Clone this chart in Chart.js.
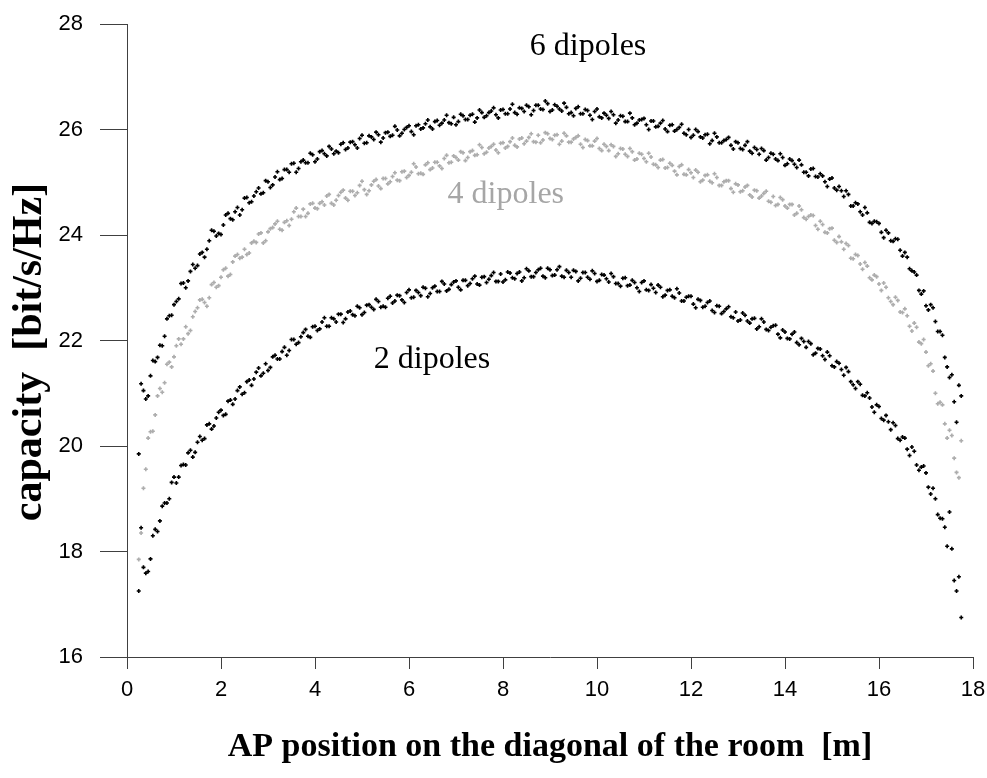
<!DOCTYPE html>
<html>
<head>
<meta charset="utf-8">
<title>Capacity along the room diagonal</title>
<script src="https://cdn.jsdelivr.net/npm/chart.js@4.4.1/dist/chart.umd.min.js"></script>
<style>
  html, body { margin: 0; padding: 0; background: #fff; }
  canvas { display: block; }
</style>
</head>
<body>
<canvas id="capacityChart" width="987" height="778"></canvas>
<script>
// AP positions along the diagonal [m]
const positions = [
  0.25, 0.3, 0.35, 0.4, 0.45, 0.5, 0.55, 0.6, 0.65, 0.7,
  0.75, 0.8, 0.85, 0.9, 0.95, 1, 1.05, 1.1, 1.15, 1.2,
  1.25, 1.3, 1.35, 1.4, 1.45, 1.5, 1.55, 1.6, 1.65, 1.7,
  1.75, 1.8, 1.85, 1.9, 1.95, 2, 2.05, 2.1, 2.15, 2.2,
  2.25, 2.3, 2.35, 2.4, 2.45, 2.5, 2.55, 2.6, 2.65, 2.7,
  2.75, 2.8, 2.85, 2.9, 2.95, 3, 3.05, 3.1, 3.15, 3.2,
  3.25, 3.3, 3.35, 3.4, 3.45, 3.5, 3.55, 3.6, 3.65, 3.7,
  3.75, 3.8, 3.85, 3.9, 3.95, 4, 4.05, 4.1, 4.15, 4.2,
  4.25, 4.3, 4.35, 4.4, 4.45, 4.5, 4.55, 4.6, 4.65, 4.7,
  4.75, 4.8, 4.85, 4.9, 4.95, 5, 5.05, 5.1, 5.15, 5.2,
  5.25, 5.3, 5.35, 5.4, 5.45, 5.5, 5.55, 5.6, 5.65, 5.7,
  5.75, 5.8, 5.85, 5.9, 5.95, 6, 6.05, 6.1, 6.15, 6.2,
  6.25, 6.3, 6.35, 6.4, 6.45, 6.5, 6.55, 6.6, 6.65, 6.7,
  6.75, 6.8, 6.85, 6.9, 6.95, 7, 7.05, 7.1, 7.15, 7.2,
  7.25, 7.3, 7.35, 7.4, 7.45, 7.5, 7.55, 7.6, 7.65, 7.7,
  7.75, 7.8, 7.85, 7.9, 7.95, 8, 8.05, 8.1, 8.15, 8.2,
  8.25, 8.3, 8.35, 8.4, 8.45, 8.5, 8.55, 8.6, 8.65, 8.7,
  8.75, 8.8, 8.85, 8.9, 8.95, 9, 9.05, 9.1, 9.15, 9.2,
  9.25, 9.3, 9.35, 9.4, 9.45, 9.5, 9.55, 9.6, 9.65, 9.7,
  9.75, 9.8, 9.85, 9.9, 9.95, 10, 10.05, 10.1, 10.15, 10.2,
  10.25, 10.3, 10.35, 10.4, 10.45, 10.5, 10.55, 10.6, 10.65, 10.7,
  10.75, 10.8, 10.85, 10.9, 10.95, 11, 11.05, 11.1, 11.15, 11.2,
  11.25, 11.3, 11.35, 11.4, 11.45, 11.5, 11.55, 11.6, 11.65, 11.7,
  11.75, 11.8, 11.85, 11.9, 11.95, 12, 12.05, 12.1, 12.15, 12.2,
  12.25, 12.3, 12.35, 12.4, 12.45, 12.5, 12.55, 12.6, 12.65, 12.7,
  12.75, 12.8, 12.85, 12.9, 12.95, 13, 13.05, 13.1, 13.15, 13.2,
  13.25, 13.3, 13.35, 13.4, 13.45, 13.5, 13.55, 13.6, 13.65, 13.7,
  13.75, 13.8, 13.85, 13.9, 13.95, 14, 14.05, 14.1, 14.15, 14.2,
  14.25, 14.3, 14.35, 14.4, 14.45, 14.5, 14.55, 14.6, 14.65, 14.7,
  14.75, 14.8, 14.85, 14.9, 14.95, 15, 15.05, 15.1, 15.15, 15.2,
  15.25, 15.3, 15.35, 15.4, 15.45, 15.5, 15.55, 15.6, 15.65, 15.7,
  15.75, 15.8, 15.85, 15.9, 15.95, 16, 16.05, 16.1, 16.15, 16.2,
  16.25, 16.3, 16.35, 16.4, 16.45, 16.5, 16.55, 16.6, 16.65, 16.7,
  16.75, 16.8, 16.85, 16.9, 16.95, 17, 17.05, 17.1, 17.15, 17.2,
  17.25, 17.3, 17.35, 17.4, 17.45, 17.5, 17.55, 17.6, 17.65, 17.7,
  17.75
];

// capacity [bit/s/Hz]
const sixDipoles = [
  19.85, 21.18, 21.05, 20.89, 20.95, 21.33, 21.62, 21.6, 21.68, 21.91,
  21.9, 22.08, 22.41, 22.47, 22.48, 22.68, 22.74, 22.79, 23.08, 23.09,
  23.0, 23.13, 23.31, 23.44, 23.37, 23.42, 23.64, 23.67, 23.58, 23.73,
  23.89, 24.09, 24.07, 23.98, 24.03, 24.01, 24.19, 24.38, 24.41, 24.31,
  24.29, 24.44, 24.52, 24.38, 24.48, 24.7, 24.71, 24.61, 24.63, 24.74,
  24.82, 24.89, 24.78, 24.8, 25.03, 25.01, 24.9, 24.95, 25.1, 25.2,
  25.05, 25.07, 25.24, 25.24, 25.19, 25.35, 25.36, 25.19, 25.26, 25.39,
  25.42, 25.37, 25.37, 25.55, 25.52, 25.39, 25.44, 25.58, 25.6, 25.54,
  25.5, 25.68, 25.63, 25.54, 25.59, 25.56, 25.72, 25.75, 25.62, 25.65,
  25.76, 25.77, 25.71, 25.65, 25.83, 25.89, 25.74, 25.75, 25.88, 25.86,
  25.81, 25.95, 25.9, 25.76, 25.84, 25.94, 25.95, 25.87, 25.89, 26.06,
  25.99, 25.88, 25.93, 26.0, 26.04, 26.07, 25.96, 25.9, 26.07, 26.09,
  26.01, 26.03, 26.11, 26.18, 26.05, 26.01, 26.15, 26.17, 26.08, 26.12,
  26.18, 26.27, 26.13, 26.11, 26.23, 26.09, 26.15, 26.29, 26.26, 26.19,
  26.19, 26.27, 26.29, 26.14, 26.22, 26.37, 26.32, 26.23, 26.26, 26.32,
  26.35, 26.41, 26.28, 26.22, 26.37, 26.38, 26.3, 26.3, 26.39, 26.48,
  26.32, 26.29, 26.41, 26.4, 26.34, 26.46, 26.43, 26.28, 26.36, 26.46,
  26.46, 26.39, 26.38, 26.54, 26.49, 26.34, 26.37, 26.47, 26.44, 26.39,
  26.35, 26.5, 26.42, 26.3, 26.32, 26.26, 26.4, 26.43, 26.3, 26.3,
  26.38, 26.36, 26.27, 26.19, 26.34, 26.39, 26.24, 26.22, 26.31, 26.27,
  26.21, 26.34, 26.28, 26.12, 26.18, 26.26, 26.25, 26.15, 26.15, 26.31,
  26.22, 26.09, 26.12, 26.18, 26.19, 26.21, 26.09, 26.0, 26.16, 26.16,
  26.05, 26.06, 26.12, 26.17, 26.01, 25.96, 26.08, 26.09, 25.97, 26.0,
  26.04, 26.1, 25.93, 25.9, 26.0, 25.85, 25.89, 26.0, 25.96, 25.86,
  25.84, 25.9, 25.91, 25.73, 25.79, 25.93, 25.86, 25.75, 25.75, 25.79,
  25.81, 25.85, 25.7, 25.63, 25.77, 25.75, 25.64, 25.62, 25.7, 25.77,
  25.59, 25.55, 25.66, 25.62, 25.53, 25.64, 25.6, 25.42, 25.47, 25.55,
  25.53, 25.44, 25.41, 25.54, 25.47, 25.32, 25.35, 25.44, 25.41, 25.34,
  25.28, 25.42, 25.33, 25.19, 25.19, 25.12, 25.25, 25.26, 25.11, 25.1,
  25.16, 25.12, 25.01, 24.92, 25.06, 25.08, 24.89, 24.85, 24.92, 24.84,
  24.73, 24.84, 24.77, 24.55, 24.55, 24.61, 24.59, 24.44, 24.38, 24.52,
  24.42, 24.24, 24.22, 24.26, 24.25, 24.22, 24.05, 23.95, 24.09, 24.04,
  23.89, 23.88, 23.93, 23.92, 23.71, 23.6, 23.67, 23.58, 23.36, 23.32,
  23.3, 23.24, 22.95, 22.88, 22.94, 22.66, 22.58, 22.68, 22.62, 22.36,
  22.17, 22.17, 22.1, 21.68, 21.5, 21.3, 21.35, 20.84, 20.45, 21.15,
  20.95
];

const fourDipoles = [
  17.85, 18.35, 19.2, 19.56, 20.15, 20.27, 20.28, 20.59, 20.95, 21.09,
  21.02, 21.2, 21.55, 21.59, 21.5, 21.69, 21.9, 22.03, 21.93, 22.03,
  22.26, 22.13, 22.19, 22.45, 22.55, 22.62, 22.77, 22.78, 22.72, 22.65,
  22.81, 23.06, 23.1, 23.01, 23.04, 23.2, 23.34, 23.37, 23.22, 23.25,
  23.49, 23.6, 23.63, 23.56, 23.58, 23.73, 23.63, 23.66, 23.85, 23.88,
  23.86, 24.02, 24.04, 23.85, 23.89, 24.06, 24.12, 24.14, 24.21, 24.26,
  24.11, 24.09, 24.24, 24.27, 24.18, 24.3, 24.44, 24.51, 24.35, 24.35,
  24.49, 24.35, 24.41, 24.59, 24.6, 24.51, 24.5, 24.6, 24.63, 24.57,
  24.74, 24.77, 24.6, 24.57, 24.66, 24.75, 24.81, 24.85, 24.7, 24.66,
  24.83, 24.83, 24.75, 24.8, 24.94, 25.02, 24.86, 24.77, 24.84, 24.95,
  25.02, 25.05, 24.93, 24.88, 25.07, 25.07, 24.97, 25.01, 25.11, 25.18,
  25.04, 25.03, 25.2, 25.21, 25.09, 25.13, 25.19, 25.35, 25.29, 25.16,
  25.17, 25.15, 25.33, 25.37, 25.24, 25.27, 25.38, 25.38, 25.31, 25.26,
  25.45, 25.51, 25.37, 25.38, 25.5, 25.47, 25.42, 25.58, 25.56, 25.41,
  25.47, 25.58, 25.6, 25.51, 25.52, 25.71, 25.66, 25.54, 25.57, 25.65,
  25.68, 25.72, 25.61, 25.56, 25.74, 25.75, 25.65, 25.68, 25.77, 25.84,
  25.7, 25.67, 25.82, 25.84, 25.73, 25.78, 25.85, 25.92, 25.77, 25.76,
  25.89, 25.75, 25.8, 25.94, 25.92, 25.83, 25.81, 25.89, 25.9, 25.72,
  25.78, 25.93, 25.88, 25.76, 25.76, 25.82, 25.85, 25.88, 25.72, 25.66,
  25.81, 25.79, 25.69, 25.69, 25.78, 25.83, 25.64, 25.6, 25.72, 25.68,
  25.6, 25.71, 25.68, 25.49, 25.54, 25.64, 25.63, 25.53, 25.49, 25.64,
  25.58, 25.42, 25.44, 25.55, 25.53, 25.45, 25.39, 25.55, 25.48, 25.34,
  25.33, 25.28, 25.42, 25.43, 25.27, 25.28, 25.36, 25.32, 25.21, 25.14,
  25.3, 25.33, 25.15, 25.14, 25.24, 25.18, 25.09, 25.23, 25.19, 25.01,
  25.04, 25.13, 25.14, 25.02, 24.99, 25.16, 25.09, 24.94, 24.94, 25.01,
  25.03, 25.03, 24.88, 24.81, 24.97, 24.95, 24.82, 24.84, 24.91, 24.94,
  24.76, 24.72, 24.85, 24.84, 24.7, 24.74, 24.79, 24.83, 24.64, 24.62,
  24.73, 24.56, 24.58, 24.71, 24.67, 24.55, 24.51, 24.58, 24.58, 24.38,
  24.41, 24.55, 24.48, 24.33, 24.3, 24.35, 24.38, 24.37, 24.18, 24.11,
  24.26, 24.2, 24.05, 24.04, 24.12, 24.13, 23.9, 23.86, 23.97, 23.87,
  23.73, 23.84, 23.8, 23.56, 23.55, 23.63, 23.61, 23.45, 23.35, 23.48,
  23.41, 23.19, 23.15, 23.24, 23.21, 23.07, 22.95, 23.09, 23.01, 22.81,
  22.74, 22.68, 22.82, 22.76, 22.54, 22.53, 22.6, 22.47, 22.27, 22.18,
  22.33, 22.25, 21.97, 21.94, 22.02, 21.78, 21.52, 21.56, 21.42, 21.0,
  20.8, 20.83, 20.78, 20.42, 20.15, 20.3, 20.2, 19.77, 19.5, 19.4,
  20.1
];

const twoDipoles = [
  17.25, 18.45, 17.7, 17.59, 17.62, 17.86, 18.3, 18.42, 18.38, 18.58,
  18.86, 18.92, 18.92, 19.0, 19.31, 19.41, 19.3, 19.41, 19.63, 19.65,
  19.64, 19.87, 19.92, 19.79, 19.88, 20.07, 20.18, 20.11, 20.14, 20.4,
  20.42, 20.32, 20.38, 20.53, 20.64, 20.68, 20.58, 20.6, 20.85, 20.87,
  20.79, 20.89, 21.05, 21.12, 20.98, 21.01, 21.22, 21.25, 21.15, 21.27,
  21.4, 21.48, 21.33, 21.38, 21.56, 21.43, 21.49, 21.69, 21.72, 21.65,
  21.65, 21.79, 21.87, 21.72, 21.81, 22.02, 22.02, 21.93, 21.96, 22.07,
  22.15, 22.21, 22.08, 22.06, 22.26, 22.27, 22.19, 22.22, 22.35, 22.43,
  22.27, 22.27, 22.43, 22.41, 22.35, 22.5, 22.5, 22.34, 22.41, 22.54,
  22.56, 22.49, 22.47, 22.65, 22.62, 22.49, 22.53, 22.67, 22.68, 22.63,
  22.59, 22.78, 22.74, 22.63, 22.65, 22.63, 22.8, 22.84, 22.71, 22.75,
  22.86, 22.85, 22.77, 22.72, 22.91, 22.96, 22.81, 22.82, 22.95, 22.91,
  22.85, 23.01, 22.99, 22.83, 22.89, 23.0, 23.03, 22.93, 22.93, 23.12,
  23.07, 22.94, 22.97, 23.06, 23.11, 23.13, 23.01, 22.96, 23.14, 23.14,
  23.04, 23.08, 23.17, 23.22, 23.07, 23.05, 23.2, 23.21, 23.1, 23.16,
  23.23, 23.29, 23.12, 23.12, 23.26, 23.11, 23.15, 23.3, 23.28, 23.19,
  23.17, 23.27, 23.3, 23.13, 23.19, 23.36, 23.32, 23.21, 23.21, 23.29,
  23.34, 23.37, 23.22, 23.19, 23.37, 23.34, 23.23, 23.24, 23.34, 23.4,
  23.22, 23.2, 23.33, 23.29, 23.2, 23.33, 23.31, 23.13, 23.18, 23.29,
  23.29, 23.2, 23.16, 23.32, 23.27, 23.12, 23.14, 23.25, 23.24, 23.17,
  23.11, 23.27, 23.21, 23.08, 23.08, 23.03, 23.18, 23.19, 23.04, 23.05,
  23.14, 23.1, 23.0, 22.93, 23.1, 23.13, 22.96, 22.95, 23.06, 22.99,
  22.91, 23.05, 23.01, 22.83, 22.86, 22.95, 22.96, 22.84, 22.81, 22.98,
  22.9, 22.75, 22.75, 22.82, 22.84, 22.84, 22.69, 22.62, 22.78, 22.76,
  22.63, 22.65, 22.72, 22.75, 22.57, 22.53, 22.66, 22.65, 22.51, 22.55,
  22.6, 22.64, 22.45, 22.43, 22.54, 22.37, 22.39, 22.52, 22.48, 22.37,
  22.33, 22.41, 22.42, 22.22, 22.26, 22.41, 22.35, 22.21, 22.19, 22.25,
  22.28, 22.29, 22.12, 22.05, 22.2, 22.16, 22.04, 22.03, 22.12, 22.16,
  21.96, 21.92, 22.04, 21.98, 21.87, 21.98, 21.94, 21.73, 21.76, 21.85,
  21.84, 21.71, 21.64, 21.78, 21.71, 21.52, 21.5, 21.6, 21.57, 21.45,
  21.34, 21.49, 21.41, 21.22, 21.16, 21.09, 21.22, 21.17, 20.96, 20.95,
  21.01, 20.91, 20.74, 20.64, 20.78, 20.75, 20.52, 20.49, 20.58, 20.46,
  20.31, 20.44, 20.39, 20.14, 20.11, 20.17, 20.15, 19.94, 19.82, 19.98,
  19.9, 19.64, 19.54, 19.6, 19.62, 19.49, 19.22, 19.09, 19.2, 19.0,
  18.7, 18.63, 18.62, 18.46, 18.1, 18.75, 18.05, 17.45, 17.25, 17.52,
  16.75
];

const xTicks = [0, 2, 4, 6, 8, 10, 12, 14, 16, 18];
const yTicks = [16, 18, 20, 22, 24, 26, 28];

// curve captions, placed in data units
const captions = [
  { text: '6 dipoles', x: 9.81, y: 27.41, color: '#000000' },
  { text: '4 dipoles', x: 8.06, y: 24.6, color: '#a6a6a6' },
  { text: '2 dipoles', x: 6.49, y: 21.47, color: '#000000' }
];

const toPoints = values => positions.map((x, i) => ({ x: x, y: values[i] }));

const axisColor = '#404040';
const tickFont = { family: '"Liberation Sans", Arial, sans-serif', size: 22 };

const textPlugin = {
  id: 'textPlugin',
  afterDraw(chart) {
    const { ctx, scales } = chart;
    ctx.save();
    ctx.textAlign = 'center';
    ctx.textBaseline = 'alphabetic';
    ctx.font = '32px "Liberation Serif", serif';
    captions.forEach(c => {
      ctx.fillStyle = c.color;
      ctx.fillText(c.text, scales.x.getPixelForValue(c.x), scales.y.getPixelForValue(c.y));
    });

    ctx.fillStyle = '#000';
    ctx.font = 'bold 34px "Liberation Serif", serif';
    ctx.fillText('AP position on the diagonal of the room  [m]', 550, 756);

    ctx.translate(41, 352);
    ctx.rotate(-Math.PI / 2);
    ctx.font = 'bold 42px "Liberation Serif", serif';
    ctx.fillText('capacity  [bit/s/Hz]', 0, 0);
    ctx.restore();
  }
};

const ctx = document.getElementById('capacityChart').getContext('2d');
new Chart(ctx, {
  type: 'scatter',
  data: {
    datasets: [
      {
        label: '4 dipoles',
        data: toPoints(fourDipoles),
        borderColor: '#adadad',
        backgroundColor: '#adadad'
      },
      {
        label: '6 dipoles',
        data: toPoints(sixDipoles),
        borderColor: '#000',
        backgroundColor: '#000'
      },
      {
        label: '2 dipoles',
        data: toPoints(twoDipoles),
        borderColor: '#000',
        backgroundColor: '#000'
      }
    ]
  },
  options: {
    responsive: false,
    animation: false,
    layout: { padding: { top: 24, right: 14, left: 0, bottom: 0 } },
    elements: {
      point: { pointStyle: 'cross', radius: 2, borderWidth: 1.6, hoverRadius: 2 }
    },
    plugins: {
      legend: { display: false },
      tooltip: { enabled: false }
    },
    scales: {
      x: {
        type: 'linear',
        min: 0,
        max: 18,
        afterBuildTicks: s => { s.ticks = xTicks.map(v => ({ value: v })); },
        afterFit: s => {
          s.height = 121;
          s.paddingLeft = 0;
          s.paddingRight = 0;
        },
        ticks: { font: tickFont, color: '#000', padding: 8, maxRotation: 0 },
        grid: { drawOnChartArea: false, drawTicks: true, tickLength: 12, color: axisColor },
        border: { color: axisColor, width: 1 }
      },
      y: {
        type: 'linear',
        min: 16,
        max: 28,
        afterBuildTicks: s => { s.ticks = yTicks.map(v => ({ value: v })); },
        afterFit: s => {
          s.width = 127;
          s.paddingTop = 0;
          s.paddingBottom = 0;
        },
        ticks: { font: tickFont, color: '#000', padding: 17 },
        grid: { drawOnChartArea: false, drawTicks: true, tickLength: 27, color: axisColor },
        border: { color: axisColor, width: 1 }
      }
    }
  },
  plugins: [textPlugin]
});
</script>
</body>
</html>
